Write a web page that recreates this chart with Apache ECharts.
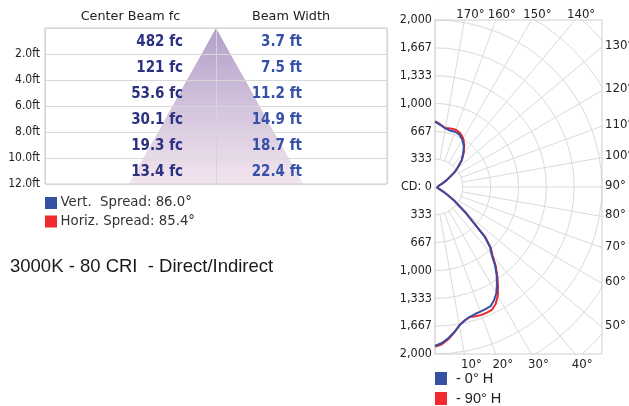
<!DOCTYPE html>
<html><head><meta charset="utf-8">
<script src="https://cdn.jsdelivr.net/npm/echarts@6/dist/echarts.min.js"></script>
<style>html,body{margin:0;padding:0;background:#fff}#c{width:629px;height:406px}</style>
</head><body><div id="c"></div>
<script>
// ---- Table data ----
const distances = [2, 4, 6, 8, 10, 12];
const centerBeamFc = [482, 121, 53.6, 30.1, 19.3, 13.4];
const beamWidthFt = [3.7, 7.5, 11.2, 14.9, 18.7, 22.4];
const spreadNames = ['Vert.  Spread:', 'Horiz. Spread:'];
const spreadValues = [86.0, 85.4];
const subtitle = '3000K - 80 CRI  - Direct/Indirect';

// ---- Polar candela data ----
const angles = [0,2.5,5,7.5,10,12.5,15,17.5,20,22.5,25,27.5,30,32.5,35,37.5,40,42.5,45,47.5,50,
  55,60,65,70,75,80,85,90,95,100,105,110,115,120,125,127.5,130,135,140,145,150,155,160,165,170,175,180];
const cd0H = [1904,1870,1819,1755,1685,1640,1609,1595,1588,1582,1575,1530,1470,1380,1287,1180,1055,975,840,612,480,
  272,128,55,25,12,6,2,0,3,8,20,50,95,158,232,300,345,450,527,600,655,692,704,698,712,745,782];
const cd90H = [1915,1885,1830,1760,1680,1635,1612,1622,1630,1628,1620,1575,1505,1405,1300,1195,1072,990,855,622,485,
  275,128,55,25,12,6,2,0,3,8,20,50,95,160,235,303,350,455,535,612,675,712,730,725,718,752,790];
const seriesNames = ['- 0° H', '- 90° H'];
const angleLabels = [10,20,30,40,50,60,70,80,90,100,110,120,130,140,150,160,170];
const cdMax = 2000;
const cdStep = 2000 / 6;

const BLUE = '#3a4ea6', RED = '#e8262b';
const LBLUE = '#3451a2', LRED = '#ef2b2d';
const COND = '"DejaVu Sans Condensed", "DejaVu Sans", sans-serif';
const DV = '"DejaVu Sans", sans-serif';
const ARIAL = '"Liberation Sans", Arial, sans-serif';

// polar box geometry
const PCX = 435, PCY = 187, PR2000 = 167;
const polarMaxCd = 2840;

const chart = echarts.init(document.getElementById('c'));

function fmtCd(v) {
  const a = Math.abs(v);
  if (a < 1) return 'CD: 0';
  return Math.round(a).toLocaleString('en-US');
}

const option = {
  animation: false,
  backgroundColor: '#fff',
  grid: [
    {left: 45, top: 28, width: 342, height: 156, show: true, borderColor: '#cacaca', borderWidth: 1, z: 3},
    {left: PCX, top: 20, width: PR2000, height: PR2000 * 2, show: true, borderColor: '#cfcfcf', borderWidth: 1, z: 3}
  ],
  xAxis: [
    {gridIndex: 0, type: 'value', min: -22, max: 22, interval: 22, z: 3,
     axisLine: {show: false}, axisTick: {show: false}, axisLabel: {show: false},
     splitLine: {show: true, lineStyle: {color: '#d4d4d4'}}},
    {gridIndex: 1, type: 'value', min: 0, max: cdMax, show: false}
  ],
  yAxis: [
    {gridIndex: 0, type: 'value', min: 0, max: 12, interval: 2, inverse: true, z: 3,
     axisLine: {show: false}, axisTick: {show: false},
     splitLine: {show: true, lineStyle: {color: '#d8d8d8'}},
     axisLabel: {margin: 5, fontSize: 12, fontFamily: COND, color: '#222',
       formatter: v => distances.includes(v) ? v.toFixed(1) + 'ft' : ''}},
    {gridIndex: 1, type: 'value', min: -cdMax, max: cdMax, interval: cdStep, z: 3,
     axisLine: {show: false}, axisTick: {show: false}, splitLine: {show: false},
     axisLabel: {margin: 3, fontSize: 12.5, fontFamily: COND, color: '#222', formatter: fmtCd}}
  ],
  polar: {center: [PCX, PCY], radius: PR2000 * polarMaxCd / cdMax},
  angleAxis: {type: 'value', min: 0, max: 360, interval: 10, startAngle: 270, clockwise: false, z: 0,
    axisLine: {show: false}, axisTick: {show: false}, axisLabel: {show: false},
    splitLine: {show: true, lineStyle: {color: '#dadada', width: 1}}},
  radiusAxis: {type: 'value', min: 0, max: polarMaxCd, interval: cdStep, z: 0,
    axisLine: {show: false}, axisTick: {show: false}, axisLabel: {show: false},
    splitLine: {show: true, lineStyle: {color: '#dadada', width: 1}}},
  legend: {orient: 'vertical', left: 435, top: 371, padding: 0, itemWidth: 12, itemHeight: 13, itemGap: 5,
    icon: 'rect', selectedMode: false, data: seriesNames, z: 4,
    textStyle: {fontSize: 14.5, fontFamily: ARIAL, color: '#222', padding: [0, 0, 0, 4]}},
  graphic: [
    // masks around the polar box
    {type: 'rect', z: 1, shape: {x: 0, y: 0, width: PCX - 0.5, height: 406}, style: {fill: '#fff'}, silent: true},
    {type: 'rect', z: 1, shape: {x: PCX - 0.5, y: 0, width: 200, height: 19.5}, style: {fill: '#fff'}, silent: true},
    {type: 'rect', z: 1, shape: {x: PCX + PR2000 + 0.5, y: 0, width: 100, height: 406}, style: {fill: '#fff'}, silent: true},
    {type: 'rect', z: 1, shape: {x: PCX - 0.5, y: 20 + PR2000 * 2 + 0.5, width: 200, height: 100}, style: {fill: '#fff'}, silent: true},
    // inner disc: radial lines start at the first ring
    {type: 'circle', z: 1, shape: {cx: PCX, cy: PCY, r: PR2000 * cdStep / cdMax - 0.8}, style: {fill: '#fff'}, silent: true},
    // column headers
    {type: 'text', z: 4, x: 130.5, y: 17, style: {text: 'Center Beam fc', align: 'center', verticalAlign: 'middle', fill: '#222', fontSize: 12.8, fontFamily: DV}},
    {type: 'text', z: 4, x: 291, y: 17, style: {text: 'Beam Width', align: 'center', verticalAlign: 'middle', fill: '#222', fontSize: 12.8, fontFamily: DV}},
    // spread legend
    {type: 'rect', z: 4, shape: {x: 45, y: 197, width: 12, height: 12}, style: {fill: LBLUE}},
    {type: 'text', z: 4, x: 60.5, y: 203, style: {text: spreadNames[0] + ' ' + spreadValues[0].toFixed(1) + '°', align: 'left', verticalAlign: 'middle', fill: '#333', fontSize: 13.3, fontFamily: DV}},
    {type: 'rect', z: 4, shape: {x: 45, y: 215.5, width: 12, height: 12}, style: {fill: LRED}},
    {type: 'text', z: 4, x: 60.5, y: 221.5, style: {text: spreadNames[1] + ' ' + spreadValues[1].toFixed(1) + '°', align: 'left', verticalAlign: 'middle', fill: '#333', fontSize: 13.3, fontFamily: DV}},
    // subtitle
    {type: 'text', z: 4, x: 10, y: 267, style: {text: subtitle, align: 'left', verticalAlign: 'middle', fill: '#1a1a1a', fontSize: 18.5, fontFamily: ARIAL}}
  ],
  series: [
    // beam triangle
    {type: 'custom', xAxisIndex: 0, yAxisIndex: 0, z: 2, clip: false, silent: true,
     data: [[0, 0]],
     renderItem: function (params, api) {
       const pts = [api.coord([0, 0])];
       for (let i = 0; i < distances.length; i++) pts.push(api.coord([-beamWidthFt[i] / 2, distances[i]]));
       for (let i = distances.length - 1; i >= 0; i--) pts.push(api.coord([beamWidthFt[i] / 2, distances[i]]));
       return {type: 'polygon', shape: {points: pts},
         style: {fill: new echarts.graphic.LinearGradient(0, 0, 0, 1, [
           {offset: 0, color: '#ab97c5'}, {offset: 1, color: '#f2e3ed'}]), opacity: 0.92}};
     }},
    // table values
    {type: 'custom', xAxisIndex: 0, yAxisIndex: 0, z: 4, clip: false, silent: true,
     data: distances.map(d => [0, d]),
     renderItem: function (params, api) {
       const i = params.dataIndex;
       const y = api.coord([0, distances[i] - 1])[1] + 1.5;
       return {type: 'group', children: [
         {type: 'text', x: 183, y: y, style: {text: centerBeamFc[i] + ' fc', align: 'right', verticalAlign: 'middle',
           fill: '#2c3180', fontSize: 15, fontWeight: 'bold', fontFamily: COND}},
         {type: 'text', x: 302, y: y, style: {text: beamWidthFt[i].toFixed(1) + ' ft', align: 'right', verticalAlign: 'middle',
           fill: '#3552a8', fontSize: 15, fontWeight: 'bold', fontFamily: COND}}
       ]};
     }},
    // angle labels on the polar box edge
    {type: 'custom', xAxisIndex: 1, yAxisIndex: 1, z: 5, clip: false, silent: true,
     data: angleLabels.map(a => [a, 0]),
     renderItem: function (params, api) {
       const deg = angleLabels[params.dataIndex];
       const t = deg * Math.PI / 180;
       const s = Math.sin(t), c = -Math.cos(t);
       let k = Infinity, side = 'right';
       if (s > 1e-9) k = cdMax / s;
       if (Math.abs(c) > 1e-9 && cdMax / Math.abs(c) < k) { k = cdMax / Math.abs(c); side = c < 0 ? 'bottom' : 'top'; }
       const p = api.coord([k * s, k * c]);
       let x = p[0], y = p[1], align = 'center';
       if (side === 'right') { x += 3; y -= 1.5; align = 'left'; }
       else if (side === 'bottom') { x += 7; y += 11; }
       else { x += 6; y -= 5; }
       return {type: 'text', x: x, y: y, style: {text: deg + '°', align: align, verticalAlign: 'middle',
         fill: '#222', fontSize: 13, fontFamily: COND}};
     }},
    {name: seriesNames[1], type: 'line', coordinateSystem: 'polar', z: 2, showSymbol: false, symbol: 'none',
     color: LRED, lineStyle: {color: RED, width: 2}, data: angles.map((a, i) => [cd90H[i], a])},
    {name: seriesNames[0], type: 'line', coordinateSystem: 'polar', z: 3, showSymbol: false, symbol: 'none',
     color: LBLUE, lineStyle: {color: BLUE, width: 2}, data: angles.map((a, i) => [cd0H[i], a])}
  ]
};
chart.setOption(option);
</script></body></html>
